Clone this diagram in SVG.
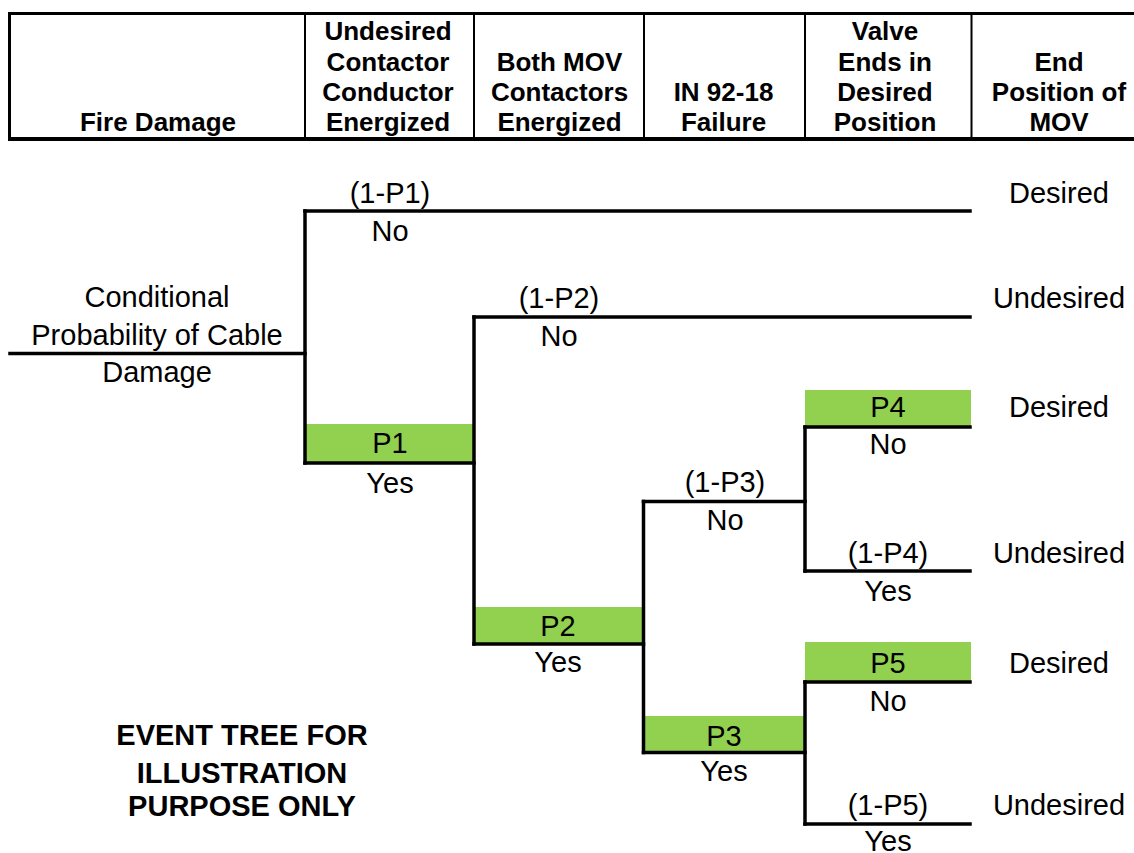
<svg xmlns="http://www.w3.org/2000/svg" width="1134" height="853" viewBox="0 0 1134 853">
  <style>
    text { font-family: "Liberation Sans", Arial, sans-serif; fill: #000; text-anchor: middle; }
    .hd { font-size: 26px; font-weight: bold; }
    .lb { font-size: 29px; }
    .note { font-size: 29px; font-weight: bold; }
    .frame { stroke: #000; fill: none; }
    .br { stroke: #000; stroke-width: 3.5; fill: none; stroke-linecap: square; }
    .prob { fill: #92D050; }
  </style>

  <!-- column headings -->
  <g id="header">
    <line class="frame" x1="8" y1="13.5" x2="1134" y2="13.5" stroke-width="3"/>
    <line class="frame" x1="8" y1="139" x2="1134" y2="139" stroke-width="4"/>
    <line class="frame" x1="9.5" y1="12" x2="9.5" y2="141" stroke-width="3"/>
    <line class="frame" x1="305" y1="13" x2="305" y2="139" stroke-width="2"/>
    <line class="frame" x1="474" y1="13" x2="474" y2="139" stroke-width="2"/>
    <line class="frame" x1="644" y1="13" x2="644" y2="139" stroke-width="2"/>
    <line class="frame" x1="805" y1="13" x2="805" y2="139" stroke-width="2"/>
    <line class="frame" x1="971.5" y1="13" x2="971.5" y2="139" stroke-width="2"/>
    <g id="col-fire-damage"><text class="hd" x="158" y="131">Fire Damage</text></g>
    <g id="col-contactor">
      <text class="hd" x="388" y="40">Undesired</text>
      <text class="hd" x="388" y="71">Contactor</text>
      <text class="hd" x="388" y="101">Conductor</text>
      <text class="hd" x="388" y="131">Energized</text>
    </g>
    <g id="col-both-mov">
      <text class="hd" x="559.5" y="71">Both MOV</text>
      <text class="hd" x="559.5" y="101">Contactors</text>
      <text class="hd" x="559.5" y="131">Energized</text>
    </g>
    <g id="col-in9218">
      <text class="hd" x="723.5" y="101">IN 92-18</text>
      <text class="hd" x="723.5" y="131">Failure</text>
    </g>
    <g id="col-valve-ends">
      <text class="hd" x="885" y="40">Valve</text>
      <text class="hd" x="885" y="71">Ends in</text>
      <text class="hd" x="885" y="101">Desired</text>
      <text class="hd" x="885" y="131">Position</text>
    </g>
    <g id="col-end-position">
      <text class="hd" x="1059" y="71">End</text>
      <text class="hd" x="1059" y="101">Position of</text>
      <text class="hd" x="1059" y="131">MOV</text>
    </g>
  </g>

  <!-- probability shading behind branch lines -->
  <g id="shading">
    <rect class="prob" x="305" y="424" width="169" height="39"/>
    <rect class="prob" x="474" y="607" width="169.5" height="37"/>
    <rect class="prob" x="643.5" y="716" width="161.5" height="36"/>
    <rect class="prob" x="805" y="390" width="166" height="37"/>
    <rect class="prob" x="805" y="642" width="166" height="40"/>
  </g>

  <!-- tree branches -->
  <g id="connectors">
    <path class="br" d="M10,353.5 H305"/>
    <path class="br" d="M305,211 V463"/>
    <path class="br" d="M305,211 H970"/>
    <path class="br" d="M305,463 H474"/>
    <path class="br" d="M474,317 V644"/>
    <path class="br" d="M474,317 H970"/>
    <path class="br" d="M474,644 H643.5"/>
    <path class="br" d="M643.5,501.5 V752.5"/>
    <path class="br" d="M643.5,501.5 H805"/>
    <path class="br" d="M643.5,752.5 H805"/>
    <path class="br" d="M805,427 V571"/>
    <path class="br" d="M805,427 H970"/>
    <path class="br" d="M805,571 H970"/>
    <path class="br" d="M805,682 V824"/>
    <path class="br" d="M805,682 H970"/>
    <path class="br" d="M805,824 H970"/>
  </g>

  <g id="initiator">
    <text class="lb" x="157" y="307">Conditional</text>
    <text class="lb" x="157" y="345">Probability of Cable</text>
    <text class="lb" x="157" y="382">Damage</text>
  </g>

  <g id="node-p1">
    <text class="lb" x="390" y="203">(1-P1)</text>
    <text class="lb" x="390" y="241">No</text>
    <text class="lb" x="390" y="453">P1</text>
    <text class="lb" x="390" y="493">Yes</text>
  </g>

  <g id="node-p2">
    <text class="lb" x="559" y="308">(1-P2)</text>
    <text class="lb" x="559" y="346">No</text>
    <text class="lb" x="558" y="636">P2</text>
    <text class="lb" x="558" y="672">Yes</text>
  </g>

  <g id="node-p3">
    <text class="lb" x="725" y="492">(1-P3)</text>
    <text class="lb" x="725" y="530">No</text>
    <text class="lb" x="724" y="746">P3</text>
    <text class="lb" x="724" y="781">Yes</text>
  </g>

  <g id="node-p4">
    <text class="lb" x="888" y="417">P4</text>
    <text class="lb" x="888" y="454">No</text>
    <text class="lb" x="888" y="563">(1-P4)</text>
    <text class="lb" x="888" y="601">Yes</text>
  </g>

  <g id="node-p5">
    <text class="lb" x="888" y="673">P5</text>
    <text class="lb" x="888" y="711">No</text>
    <text class="lb" x="888" y="815">(1-P5)</text>
    <text class="lb" x="888" y="851">Yes</text>
  </g>

  <g id="outcomes">
    <text class="lb" x="1059" y="203">Desired</text>
    <text class="lb" x="1059" y="308">Undesired</text>
    <text class="lb" x="1059" y="417">Desired</text>
    <text class="lb" x="1059" y="563">Undesired</text>
    <text class="lb" x="1059" y="673">Desired</text>
    <text class="lb" x="1059" y="815">Undesired</text>
  </g>

  <g id="caption">
    <text class="note" x="242" y="745">EVENT TREE FOR</text>
    <text class="note" x="242" y="783">ILLUSTRATION</text>
    <text class="note" x="242" y="816">PURPOSE ONLY</text>
  </g>
</svg>
